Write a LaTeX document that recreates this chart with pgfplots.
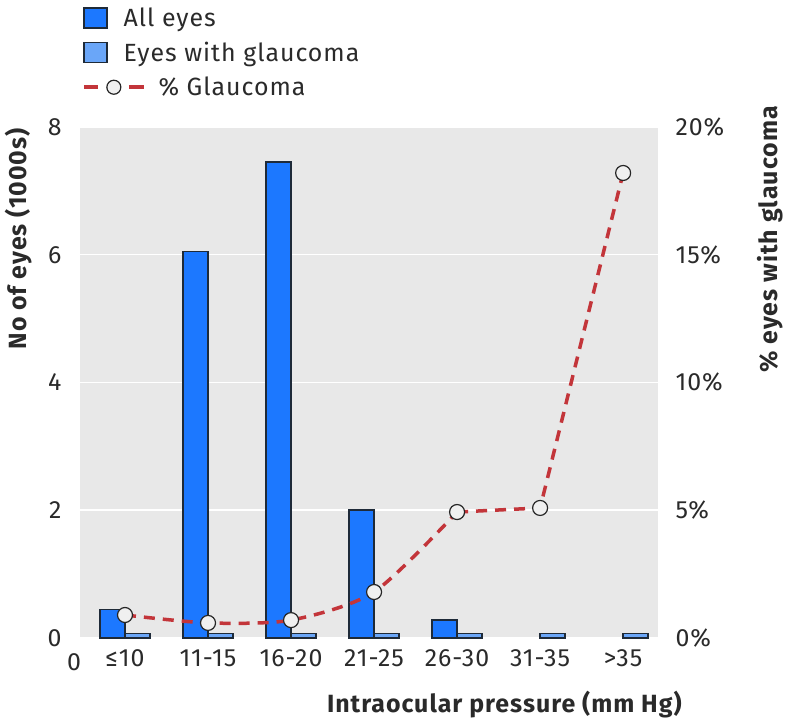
\documentclass[border=0pt]{standalone}
\usepackage{pgfplots}
\pgfplotsset{compat=1.18}
\usepackage{fontspec}
\setmainfont{Fira Sans}[LetterSpace=4]
\definecolor{allblue}{HTML}{1C78FF}
\definecolor{glblue}{HTML}{6AA6F8}
\definecolor{edge}{HTML}{1E2A38}
\definecolor{bggrey}{HTML}{E8E8E8}
\definecolor{lred}{HTML}{C3353A}
\definecolor{txt}{HTML}{2A2A2A}
\newcommand{\fs}{\fontsize{25}{29}\selectfont}
\begin{document}
\begin{tikzpicture}
\useasboundingbox (-80bp,-86bp) rectangle (708bp,638bp);
\begin{axis}[
  scale only axis, width=578bp, height=511bp,
  xmin=0.458, xmax=7.42, ymin=0, ymax=8,
  clip=false,
  axis background/.style={fill=bggrey},
  axis line style={draw=none}, major tick length=0pt,
  ymajorgrids, grid style={white, line width=1.5bp},
  xtick={1,2,3,4,5,6,7},
  xticklabels={≤10,11-15,16-20,21-25,26-30,31-35,>35},
  ytick={0,2,4,6,8},
  ybar=0pt, bar width=25bp,
  /pgf/number format/assume math mode=true,
  tick label style={font=\fs, text=txt},
  yticklabel style={xshift=-15bp},
  xticklabel style={yshift=-8bp},
  ylabel={\bfseries No of eyes (1000s)},
  ylabel style={font=\fs, text=txt, at={(axis description cs:-0.107,0.781)}, anchor=center},
  xlabel={\bfseries Intraocular pressure (mm Hg)},
  xlabel style={font=\fs, text=txt, at={(axis description cs:1.047,-0.131)}, anchor=east},
  legend style={at={(axis description cs:0.005,1.237)}, anchor=north west, draw=none, fill=none,
     font=\fs, text=txt, row sep=10bp, column sep=14bp, inner sep=0pt},
  legend cell align=left,
]
\addplot[fill=allblue, draw=edge, line width=1.5bp,
  legend image code/.code={\draw[fill=allblue, draw=edge, line width=1.5bp] (0bp,-10bp) rectangle (23bp,10bp);}]
  coordinates {(1,0.45) (2,6.05) (3,7.45) (4,2.0) (5,0.28)};
\addlegendentry{All eyes}
\addplot[fill=glblue, draw=edge, line width=1.5bp,
  legend image code/.code={\draw[fill=glblue, draw=edge, line width=1.5bp] (0bp,-10bp) rectangle (23bp,10bp);}]
  coordinates {(1,0.07) (2,0.07) (3,0.07) (4,0.07) (5,0.07) (6,0.07) (7,0.07)};
\addlegendentry{Eyes with glaucoma}
\addlegendimage{legend image code/.code={
  \draw[draw=none] (0bp,-10bp) rectangle (23bp,10bp);
  \begin{scope}[overlay]
  \draw[lred, line width=3.5bp] (0bp,0bp)--(14bp,0bp);
  \draw[lred, line width=3.5bp] (45bp,0bp)--(60bp,0bp);
  \draw[fill=gray!12, draw=black!85, line width=1.2bp] (30bp,0bp) circle (7bp);
  \end{scope}}}
\addlegendentry{\hspace{35bp}\% Glaucoma}
\node[font=\fs, text=txt] at (rel axis cs:0,0) [xshift=-6bp, yshift=-24bp] {0};
\end{axis}
\begin{axis}[
  scale only axis, width=578bp, height=511bp,
  xmin=0.458, xmax=7.42, ymin=0, ymax=20,
  axis y line*=right, hide x axis,
  axis line style={draw=none}, major tick length=0pt,
  ytick={0,5,10,15,20},
  yticklabel={\pgfmathprintnumber{\tick}\%},
  /pgf/number format/assume math mode=true,
  tick label style={font=\fs, text=txt},
  yticklabel style={xshift=14bp},
  ylabel={\bfseries \% eyes with glaucoma},
  ylabel style={font=\fs, text=txt, at={(axis description cs:1.194,0.78)}, anchor=center},
  clip=false,
]
\addplot[lred, line width=3.5bp, dash pattern=on 11bp off 8bp, smooth, tension=0.45, forget plot]
  coordinates {(1,0.9) (2,0.59) (3,0.7) (4,1.8) (5,4.93)};
\addplot[lred, line width=3.5bp, dash pattern=on 11bp off 8bp, forget plot]
  coordinates {(5,4.93) (6,5.09) (7,18.2)};
\addplot[only marks, mark=*, mark size=7.5bp, mark options={solid, fill=gray!12, draw=black!85, line width=1.2bp}]
  coordinates {(1,0.9) (2,0.59) (3,0.7) (4,1.8) (5,4.93) (6,5.09) (7,18.2)};
\end{axis}
\end{tikzpicture}
\end{document}
